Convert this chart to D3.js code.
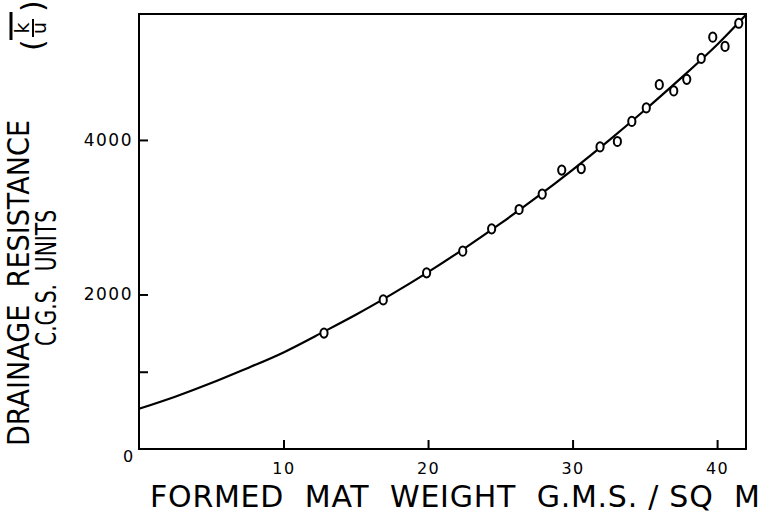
<!DOCTYPE html>
<html><head><meta charset="utf-8">
<script src="https://cdn.jsdelivr.net/npm/d3@7"></script>
<style>
html,body{margin:0;padding:0;background:#fff;}
svg text{font-family:"DejaVu Sans","Liberation Sans",sans-serif;fill:#000;}
</style></head>
<body><svg id="c" width="764" height="520"></svg>
<script>
// measured points: mat weight (g/m^2) and drainage resistance (cgs)
const pointX = [12.8,16.9,19.9,22.4,24.4,26.3,27.9,29.25,30.6,31.9,33.1,34.1,35.1,36.0,37.0,37.9,38.9,39.7,40.55,41.5];
const pointY = [1500,1930,2280,2560,2850,3100,3300,3610,3630,3910,3980,4240,4415,4715,4635,4785,5055,5330,5210,5510];
// smooth fitted curve
const curveX = [0,2.5,5,7.5,10,12.5,15,17.5,20,22.5,25,27.5,30,32.5,35,37.5,40,42];
const curveY = [520,677,853,1046,1250,1490,1738,2005,2290,2594,2916,3256,3614,3991,4387,4800,5232,5620];
const xTicks = [10,20,30,40];
const yTicks = [1000,2000,4000];
const yTickLabels = ["","2000","4000"];
const xTitle = "FORMED\u00a0\u00a0MAT\u00a0\u00a0WEIGHT\u00a0\u00a0G.M.S.\u00a0/\u00a0SQ\u00a0\u00a0M";
const yTitle = "DRAINAGE\u00a0\u00a0RESISTANCE";
const yUnits = "C.G.S.\u00a0\u00a0UNITS";

const svg = d3.select("#c");
const L=139, R=746, T=14, B=449;
const x = d3.scaleLinear().domain([0,42]).range([L,R]);
const y = d3.scaleLinear().domain([0,5630]).range([B,T]);

// frame
svg.append("rect").attr("x",L).attr("y",T).attr("width",R-L).attr("height",B-T)
  .attr("fill","none").attr("stroke","#000").attr("stroke-width",2);

const xa = svg.append("g").attr("transform",`translate(0,${B})`)
  .call(d3.axisBottom(x).tickValues(xTicks).tickSizeInner(-9).tickSizeOuter(0).tickPadding(14).tickFormat(d3.format("d")));
xa.select(".domain").remove();
xa.selectAll("line").attr("stroke-width",2);
xa.selectAll("text").attr("font-size",16).attr("letter-spacing",1.5);

const ya = svg.append("g").attr("transform",`translate(${L},0)`)
  .call(d3.axisLeft(y).tickValues(yTicks).tickSizeInner(-9).tickSizeOuter(0).tickPadding(6).tickFormat((d,i)=>yTickLabels[i]));
ya.select(".domain").remove();
ya.selectAll("line").attr("stroke-width",2);
ya.selectAll("text").attr("font-size",17).attr("letter-spacing",1.5);

svg.append("text").attr("x",x(0)-11).attr("y",y(0)+8).attr("text-anchor","middle")
  .attr("dominant-baseline","middle").attr("font-size",16).text("0");

// curve
svg.append("path").datum(curveX.map((d,i)=>[d,curveY[i]]))
  .attr("d",d3.line().x(d=>x(d[0])).y(d=>y(d[1])).curve(d3.curveNatural))
  .attr("fill","none").attr("stroke","#000").attr("stroke-width",2.2);

// points
svg.append("g").selectAll("ellipse").data(pointX.map((d,i)=>[d,pointY[i]])).join("ellipse")
  .attr("cx",d=>x(d[0])).attr("cy",d=>y(d[1])).attr("rx",3.6).attr("ry",4.6)
  .attr("fill","#fff").attr("stroke","#000").attr("stroke-width",2);

// x title
svg.append("text").attr("x",150).attr("y",507).attr("font-size",30)
  .attr("textLength",610).attr("lengthAdjust","spacing").text(xTitle);

// y title (rotated)
const yt = svg.append("g").attr("transform","rotate(-90)");
yt.append("text").attr("x",-446).attr("y",29).attr("font-size",30)
  .attr("textLength",326).attr("lengthAdjust","spacingAndGlyphs").text(yTitle);
yt.append("text").attr("x",-346).attr("y",56).attr("font-size",29)
  .attr("textLength",136).attr("lengthAdjust","spacingAndGlyphs").text(yUnits);
// dash and (k/u)
yt.append("line").attr("x1",-40).attr("x2",-12).attr("y1",11).attr("y2",11).attr("stroke","#000").attr("stroke-width",3);
yt.append("text").attr("x",-28).attr("y",29).attr("font-size",19).attr("text-anchor","middle").text("k");
yt.append("line").attr("x1",-37).attr("x2",-19).attr("y1",33).attr("y2",33).attr("stroke","#000").attr("stroke-width",2);
yt.append("text").attr("x",-28).attr("y",46).attr("font-size",19).attr("text-anchor","middle").text("u");
yt.append("text").attr("x",-51).attr("y",43).attr("font-size",30).text("(");
yt.append("text").attr("x",-12).attr("y",43).attr("font-size",30).text(")");
</script></body></html>
